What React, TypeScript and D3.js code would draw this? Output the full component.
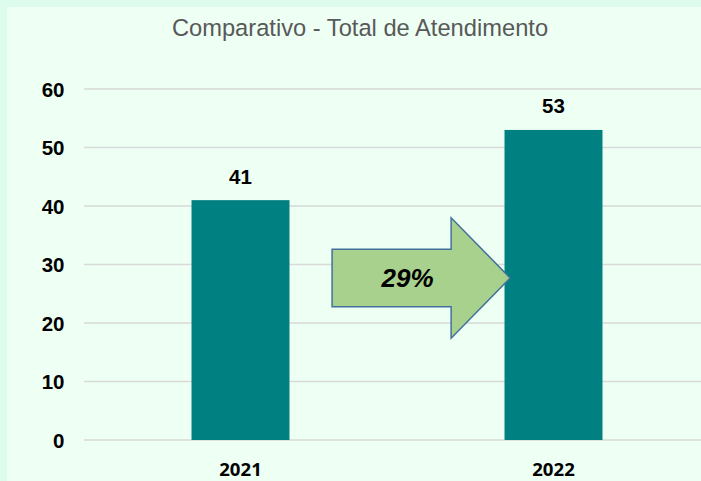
import React from "react";
import * as d3 from "d3";

const categories = ["2021", "2022"];
const values = [41, 53];
const yTicks = [0, 10, 20, 30, 40, 50, 60];
const title = "Comparativo - Total de Atendimento";
const changeLabel = "29%";

export default function App() {
  const W = 701, H = 481;
  const left = 84, right = 710, top = 89, bottom = 440;
  const x = d3.scaleBand<string>().domain(categories).range([left, right]).paddingInner(0.687).paddingOuter(0.3435);
  const y = d3.scaleLinear().domain([0, 60]).range([bottom, top]);

  // arrow geometry (annotation between bars)
  const x1 = (x("2021") as number) + x.bandwidth();
  const x2 = x("2022") as number;
  const ax0 = x1 + 42.6, axTip = x2 + 5.6, axHead = x2 - 53.4;
  const ayMid = y(27.7);
  const bodyH = 28.8, headH = 60.2;
  const arrow = [
    [ax0, ayMid - bodyH], [axHead, ayMid - bodyH], [axHead, ayMid - headH],
    [axTip, ayMid], [axHead, ayMid + headH], [axHead, ayMid + bodyH], [ax0, ayMid + bodyH],
  ].map(p => p.join(",")).join(" ");

  return (
    <svg width={W} height={H} style={{ position: "absolute", left: 0, top: 0 }}>
      <rect x={0} y={0} width={W} height={H} fill="#DEFCEE" />
      <rect x={7} y={7} width={W} height={H} fill="#EEFFF4" />
      <text x={360} y={36} textAnchor="middle" fontFamily="Liberation Sans, Arial, sans-serif" fontSize={23.7} fill="#595959">{title}</text>
      {yTicks.map(t => (
        <g key={t}>
          <line x1={left} x2={W} y1={y(t)} y2={y(t)} stroke="#D9D9D9" strokeWidth={1.5} />
          <text x={64.5} y={y(t) + 7.5} textAnchor="end" fontFamily="Liberation Sans, Arial, sans-serif" fontWeight="bold" fontSize={20.5} fill="#000">{t}</text>
        </g>
      ))}
      {categories.map((c, i) => (
        <g key={c}>
          <rect x={x(c)} y={y(values[i])} width={x.bandwidth()} height={bottom - y(values[i])} fill="#008080" />
          <text x={(x(c) as number) + x.bandwidth() / 2} y={y(values[i]) - 16.6} textAnchor="middle" fontFamily="Liberation Sans, Arial, sans-serif" fontWeight="bold" fontSize={20.5} fill="#000">{values[i]}</text>
          <text x={(x(c) as number) + x.bandwidth() / 2} y={476} textAnchor="middle" fontFamily="Open Sans, sans-serif" fontWeight="bold" fontSize={18.6} fill="#000">{c}</text>
        </g>
      ))}
      <polygon points={arrow} fill="#A9D18E" stroke="#41719C" strokeWidth={1.5} />
      <text x={(ax0 + axHead) / 2 + 16} y={ayMid + 9.5} textAnchor="middle" fontFamily="Liberation Sans, Arial, sans-serif" fontWeight="bold" fontStyle="italic" fontSize={26} fill="#000">{changeLabel}</text>
    </svg>
  );
}
